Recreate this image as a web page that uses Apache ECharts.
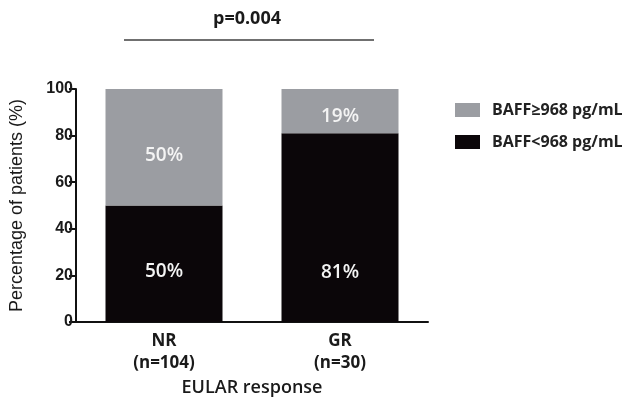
<!DOCTYPE html>
<html>
<head>
<meta charset="utf-8">
<script src="https://cdn.jsdelivr.net/npm/echarts@6/dist/echarts.min.js"></script>
<style>
  html, body { margin: 0; padding: 0; background: #ffffff; }
  #chart { width: 633px; height: 406px; }
</style>
</head>
<body>
<div id="chart"></div>
<script>
// EULAR response groups and the share of patients in each BAFF group
const categories = ['NR\n(n=104)', 'GR\n(n=30)'];
const baffLow = [50, 81];   // BAFF<968 pg/mL (%)
const baffHigh = [50, 19];  // BAFF≥968 pg/mL (%)
const yTicks = [0, 20, 40, 60, 80, 100];
const pValueText = 'p=0.004';

const seriesLowName = 'BAFF<968 pg/mL';
const seriesHighName = 'BAFF≥968 pg/mL';

const chart = echarts.init(document.getElementById('chart'), null, { renderer: 'canvas' });

const labelFont = {
  show: true,
  formatter: '{c}%',
  color: '#f4f4f4',
  fontFamily: 'Open Sans',
  fontWeight: 600,
  fontSize: 19
};

// vertical nudges of the percentage labels inside each segment
const lowLabelShift = [8, 45];
const highLabelShift = [8, 5];

const option = {
  animation: false,
  backgroundColor: '#ffffff',
  grid: { left: 75, right: 205, top: 89, bottom: 84, containLabel: false },
  legend: {
    orient: 'vertical',
    left: 450,
    top: 97,
    itemWidth: 25,
    itemHeight: 14,
    itemGap: 16,
    icon: 'rect',
    data: [seriesHighName, seriesLowName],
    textStyle: {
      fontFamily: 'Open Sans',
      fontWeight: 700,
      fontSize: 16,
      color: '#222222',
      padding: [0, 0, 0, 7]
    }
  },
  xAxis: {
    type: 'category',
    data: categories,
    axisLine: { lineStyle: { color: '#111111', width: 2 } },
    axisTick: { alignWithLabel: true, length: 6, lineStyle: { color: '#111111', width: 2 } },
    axisLabel: {
      color: '#1a1a1a',
      fontFamily: 'Open Sans',
      fontWeight: 700,
      fontSize: 17,
      lineHeight: 22,
      margin: 8
    },
    name: 'EULAR response',
    nameLocation: 'middle',
    nameGap: 56,
    nameTextStyle: { color: '#1a1a1a', fontFamily: 'Open Sans', fontWeight: 600, fontSize: 18 }
  },
  yAxis: {
    type: 'value',
    min: yTicks[0],
    max: yTicks[yTicks.length - 1],
    interval: yTicks[1] - yTicks[0],
    splitLine: { show: false },
    axisLine: { show: true, lineStyle: { color: '#111111', width: 2 } },
    axisTick: { show: true, length: 7, lineStyle: { color: '#111111', width: 2 } },
    axisLabel: {
      color: '#1a1a1a',
      fontFamily: 'Liberation Sans',
      fontWeight: 'bold',
      fontSize: 16,
      margin: 3
    },
    name: 'Percentage of patients (%)',
    nameLocation: 'middle',
    nameGap: 50,
    nameTextStyle: { color: '#1a1a1a', fontFamily: 'Liberation Sans', fontSize: 18 }
  },
  series: [
    {
      name: seriesLowName,
      type: 'bar',
      stack: 'baff',
      barWidth: 117,
      itemStyle: { color: '#0b0609' },
      data: baffLow.map((v, i) => ({
        value: v,
        label: Object.assign({}, labelFont, { position: 'inside', offset: [0, lowLabelShift[i]] })
      }))
    },
    {
      name: seriesHighName,
      type: 'bar',
      stack: 'baff',
      barWidth: 117,
      itemStyle: { color: '#9b9da2' },
      data: baffHigh.map((v, i) => ({
        value: v,
        label: Object.assign({}, labelFont, { position: 'inside', offset: [0, highLabelShift[i]] })
      }))
    }
  ]
};

chart.setOption(option);

// significance bracket spanning both groups, placed from the category positions
const leftX = chart.convertToPixel({ xAxisIndex: 0 }, 0);
const rightX = chart.convertToPixel({ xAxisIndex: 0 }, 1);
chart.setOption({
  graphic: [
    {
      type: 'line',
      shape: { x1: leftX - 40, y1: 40, x2: rightX + 34, y2: 40 },
      style: { stroke: '#707070', lineWidth: 2 }
    },
    {
      type: 'text',
      x: (leftX + rightX) / 2 - 5,
      y: 19,
      style: {
        text: pValueText,
        fill: '#1a1a1a',
        font: '700 18px "Open Sans"',
        textAlign: 'center',
        textVerticalAlign: 'middle'
      }
    }
  ]
});
</script>
</body>
</html>
